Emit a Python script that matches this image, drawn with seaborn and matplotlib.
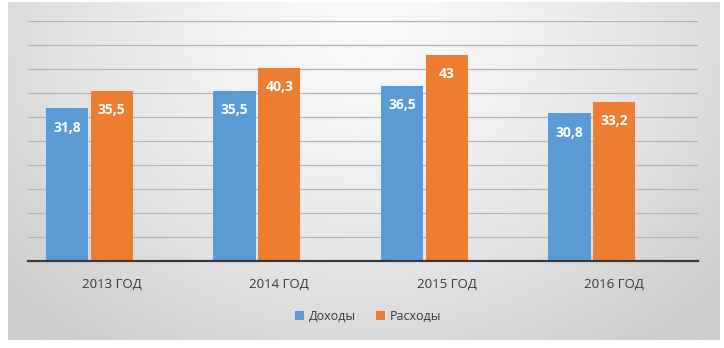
import numpy as np
import pandas as pd
import matplotlib
matplotlib.use("Agg")
import matplotlib.pyplot as plt
from matplotlib.patches import Patch
import seaborn as sns

# %%
years = ["2013 ГОД", "2014 ГОД", "2015 ГОД", "2016 ГОД"]
income = [31.8, 35.5, 36.5, 30.8]
expense = [35.5, 40.3, 43.0, 33.2]
series = ["Доходы", "Расходы"]
colors = ["#5B9BD5", "#ED7D31"]

# %%
sns.set_style("white")
plt.rcParams["font.family"] = ["Open Sans", "DejaVu Sans"]

rows = []
for y, a, b in zip(years, income, expense):
    rows.append((y, series[0], a))
    rows.append((y, series[1], b))
    rows.append((y, "pad", 0.0))  # empty third slot, as in the original chart
df = pd.DataFrame(rows, columns=["year", "series", "value"])

fig = plt.figure(figsize=(7.24, 3.48), dpi=100)

# gradient frame behind the chart
bg = fig.add_axes([8 / 724, 8 / 348, 712 / 724, 338 / 348], zorder=0)
gx, gy = np.meshgrid(np.linspace(0, 1, 300), np.linspace(0, 1, 150))
d = np.sqrt(((gx - 0.5) / 0.62) ** 2 + ((gy - 0.92) / 1.1) ** 2)
shade = np.clip(0.975 - 0.16 * d ** 1.5, 0.8, 1.0)
bg.imshow(shade, cmap="gray", vmin=0, vmax=1, origin="lower", aspect="auto",
          extent=[0, 1, 0, 1])
bg.set_axis_off()

ax = fig.add_axes([28 / 724, 1 - 261 / 348, 670 / 724, 240 / 348], zorder=1)
ax.patch.set_alpha(0)
sns.barplot(data=df, x="year", y="value", hue="series",
            hue_order=series + ["pad"],
            palette=colors + ["#ffffff"], saturation=1, width=0.8, gap=0.05,
            linewidth=0, legend=False, ax=ax)

ax.set_ylim(0, 50)
ax.set_yticks(np.arange(0, 51, 5))
ax.yaxis.grid(True, color="#b4b4b4", linewidth=0.9)
ax.set_axisbelow(True)
ax.tick_params(axis="y", left=False, labelleft=False)
ax.tick_params(axis="x", bottom=False, labelsize=9.5, labelcolor="#3a3a3a", pad=9)
ax.set_xlabel("")
ax.set_ylabel("")
for s in ["left", "right", "top"]:
    ax.spines[s].set_visible(False)
ax.spines["bottom"].set_color("#3a3a3a")
ax.spines["bottom"].set_linewidth(1.6)

for cont in ax.containers[:2]:
    ax.bar_label(cont, labels=[f"{v:g}".replace(".", ",") for v in cont.datavalues],
                 padding=-19, color="white", fontsize=10, fontweight="bold")

handles = [Patch(facecolor=c, edgecolor="none") for c in colors]
fig.legend(handles, series, loc="center", bbox_to_anchor=(368 / 724, 1 - 316 / 348),
           ncol=2, frameon=False, fontsize=9, handlelength=0.7, handleheight=0.7,
           handletextpad=0.4, columnspacing=1.6, labelcolor="#3a3a3a")

fig.savefig("out.png", dpi=100)
